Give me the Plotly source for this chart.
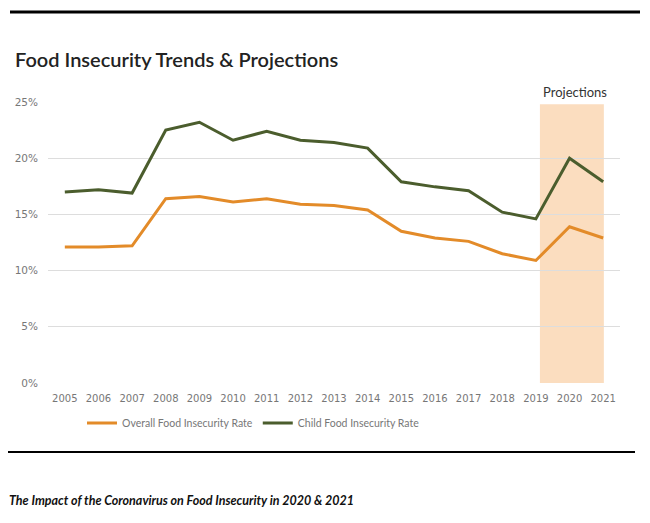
import plotly.graph_objects as go

years = [str(y) for y in range(2005, 2022)]
overall_rate = [12.1, 12.1, 12.2, 16.4, 16.6, 16.1, 16.4, 15.9, 15.8, 15.4, 13.5, 12.9, 12.6, 11.5, 10.9, 13.9, 12.9]
child_rate = [17.0, 17.2, 16.9, 22.5, 23.2, 21.6, 22.4, 21.6, 21.4, 20.9, 17.9, 17.45, 17.1, 15.2, 14.6, 20.0, 17.9]
y_ticks = [0, 5, 10, 15, 20, 25]
y_tick_labels = ["0%", "5%", "10%", "15%", "20%", "25%"]

ORANGE = "#E38B29"
GREEN = "#4B5D2D"
SHADE = "#FBDDBF"

PW, PH = 572, 281  # plot area size in px

fig = go.Figure()
fig.add_trace(go.Scatter(x=years, y=overall_rate, mode="lines", name="Overall Food Insecurity Rate",
                         line=dict(color=ORANGE, width=3)))
fig.add_trace(go.Scatter(x=years, y=child_rate, mode="lines", name="Child Food Insecurity Rate",
                         line=dict(color=GREEN, width=3)))

# projection shading
fig.add_shape(type="rect", xref="x", yref="y", x0=14.12, x1=16.02, y0=0, y1=24.8,
              fillcolor=SHADE, line=dict(width=0), layer="below")

# top and bottom rules
fig.add_shape(type="line", xref="paper", yref="paper", x0=-38/PW, x1=592/PW,
              y0=1 + 90/PH, y1=1 + 90/PH, line=dict(color="black", width=3))
fig.add_shape(type="line", xref="paper", yref="paper", x0=-43/PW, x1=587/PW,
              y0=-69/PH, y1=-69/PH, line=dict(color="black", width=2))

fig.add_annotation(text="Food Insecurity Trends & Projections", xref="paper", yref="paper",
                   x=-35/PW, y=1 + 43/PH, xanchor="left", yanchor="middle", showarrow=False,
                   font=dict(family="Lato", size=20, color="#222222", weight=600))
fig.add_annotation(text="Projections", xref="x", yref="paper", x=15.15, y=1 + 10/PH,
                   xanchor="center", yanchor="middle", showarrow=False,
                   font=dict(family="Lato", size=13, color="#333333"))
fig.add_annotation(text="<i>The Impact of the Coronavirus on Food Insecurity in 2020 &amp; 2021</i>",
                   xref="paper", yref="paper", x=-41/PW, y=-117/PH, xanchor="left", yanchor="middle",
                   showarrow=False, font=dict(family="Lato", size=12.5, color="#111111", weight=700))

fig.update_layout(
    width=642, height=515,
    margin=dict(l=40, r=30, t=94, b=140, autoexpand=False),
    paper_bgcolor="white", plot_bgcolor="white",
    showlegend=True,
    legend=dict(orientation="h", x=(82 - 48) / PW, xanchor="left", y=-40 / PH, yanchor="middle",
                font=dict(family="Lato", size=10.5, color="#777777"), itemwidth=30,
                tracegroupgap=0),
    xaxis=dict(type="category", range=[-0.5, 16.5], showgrid=False, zeroline=False,
               showline=False, ticks="", ticklabelstandoff=8,
               tickfont=dict(family="DejaVu Sans", size=10, color="#777777"), fixedrange=True),
    yaxis=dict(range=[0, 25], tickvals=y_ticks, ticktext=y_tick_labels, showgrid=True,
               gridcolor="#DDDDDD", gridwidth=1, zeroline=False, showline=False, ticks="",
               ticklabelstandoff=9,
               tickfont=dict(family="DejaVu Sans", size=10.5, color="#777777"), fixedrange=True),
)

fig.write_html("out.html")
